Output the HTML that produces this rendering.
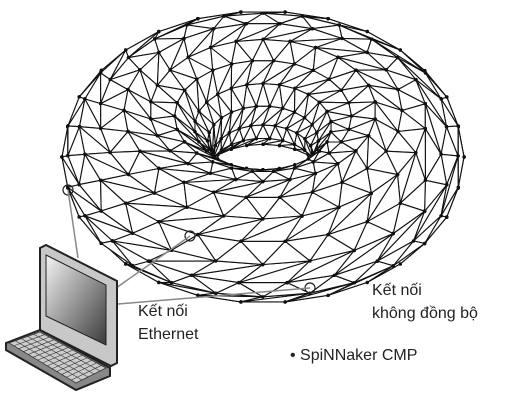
<!DOCTYPE html>
<html><head><meta charset="utf-8">
<style>
html,body{margin:0;padding:0;background:#fff;}
body{width:509px;height:414px;overflow:hidden;position:relative;font-family:"Liberation Sans","DejaVu Sans",sans-serif;}
.t{position:absolute;font-size:16px;color:#222;line-height:23px;}
</style></head>
<body>
<svg id="s" width="509" height="414" viewBox="0 0 509 414" style="position:absolute;left:0;top:0">
<g id="mesh"></g>
<g fill="none" stroke="#222" stroke-width="1.2">
<circle cx="68" cy="190" r="5"/>
<circle cx="190" cy="236" r="5"/>
<circle cx="310" cy="288" r="5"/>
</g>
<g stroke="#888" stroke-width="1.5" fill="none">
<line x1="68" y1="190" x2="78" y2="258"/>
<line x1="190" y1="236" x2="116" y2="288"/>
<line x1="310" y1="288" x2="118" y2="304"/>
</g>
<defs><linearGradient id="g" x1="0" y1="0" x2="1" y2="1">
<stop offset="0" stop-color="#f4f4f4"/><stop offset="1" stop-color="#3a3a3a"/></linearGradient></defs>
<polygon points="55,330 110,358 110,372 70,352 55,345" fill="#bbb" stroke="#222" stroke-width="1.5"/>
<polygon points="40,248 46,245 117,281 117,363 111,366 40,330" fill="#c8c8c8" stroke="#222" stroke-width="2"/>
<polygon points="46,255 106,285 106,345 46,316" fill="url(#g)" stroke="#222" stroke-width="1"/>
<polygon points="6,343 40,330 110,368 110,376 76,390 6,350" fill="#888" stroke="#222" stroke-width="2"/>
<polygon points="9,343 40,332 106,368 76,383" fill="#ccc" stroke="#333" stroke-width="0.8"/>
<g id="kb" stroke="#333" stroke-width="0.6"></g>
</svg>
<div class="t" style="left:138px;top:300px">Kết nối<br>Ethernet</div>
<div class="t" style="left:372px;top:279px">Kết nối<br>không đồng bộ</div>
<div class="t" style="left:290px;top:344px">• SpiNNaker CMP</div>
<script>
(function(){
var R=126,r=75,k=1,e=45*Math.PI/180,se=Math.sin(e),ce=Math.cos(e);
var cx=263,cy=157,sx=1.0,sy=0.89;
var NU=26,NV=18;
function P(i,j){
 var u=2*Math.PI*i/NU+0.12*(j%2), v=2*Math.PI*j/NV;
 var X=(R+r*Math.cos(v))*Math.cos(u),Y=(R+r*Math.cos(v))*Math.sin(u),Z=k*r*Math.sin(v);
 return {x:cx+X*sx,y:cy-sy*(Y*se+Z*ce),d:-Y*ce+Z*se};
}
var pts=[];
for(var i=0;i<NU;i++){pts[i]=[];for(var j=0;j<NV;j++)pts[i][j]=P(i,j);}
var tris=[];
for(var i=0;i<NU;i++)for(var j=0;j<NV;j++){
 var a=pts[i][j],b=pts[(i+1)%NU][j],c=pts[(i+1)%NU][(j+1)%NV],d=pts[i][(j+1)%NV];
 tris.push([a,b,c]);tris.push([a,c,d]);
}
tris.forEach(function(t){t.z=(t[0].d+t[1].d+t[2].d)/3;});
tris.sort(function(p,q){return p.z-q.z;});
var g=document.getElementById("mesh"),h="";
tris.forEach(function(t){
 h+='<polygon points="'+t.map(function(p){return p.x.toFixed(1)+","+p.y.toFixed(1)}).join(" ")+'" fill="#fff" stroke="#111" stroke-width="1.1" stroke-linejoin="round"/>';
 t.forEach(function(p){h+='<circle cx="'+p.x.toFixed(1)+'" cy="'+p.y.toFixed(1)+'" r="1.7" fill="#111"/>';});
});
g.innerHTML=h;
var kb=document.getElementById("kb"),s="";
for(var n=1;n<5;n++){var f=n/5;
 s+='<line x1="'+(9+31*f)+'" y1="'+(343-11*f)+'" x2="'+(76+30*f)+'" y2="'+(383-15*f)+'"/>';}
for(var n=1;n<14;n++){var f=n/14;
 s+='<line x1="'+(9+67*f)+'" y1="'+(343+40*f)+'" x2="'+(40+66*f)+'" y2="'+(332+36*f)+'"/>';}
kb.innerHTML=s;
})();
</script>
</body></html>
